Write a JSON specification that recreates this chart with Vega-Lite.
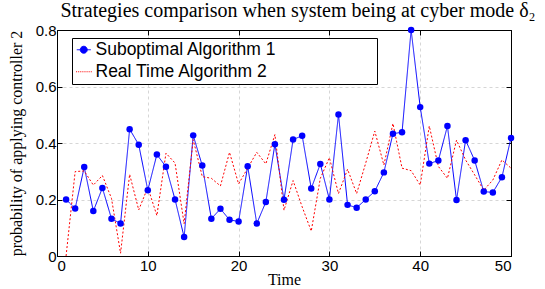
{
  "$schema": "https://vega.github.io/schema/vega-lite/v6.json",
  "autosize": {"type": "none"},
  "padding": {"left": 57, "top": 30, "right": 34, "bottom": 33},
  "width": 454,
  "height": 226,
  "background": "white",
  "title": {"text": "Strategies comparison when system being at cyber mode δ₂", "font": "Liberation Serif", "fontSize": 20, "fontWeight": "normal", "color": "black", "anchor": "middle", "dx": 14, "offset": 2},
  "config": {
    "view": {"stroke": "black", "strokeWidth": 1},
    "axis": {"labelFont": "Liberation Sans", "labelFontSize": 15, "labelColor": "black", "tickColor": "black", "tickSize": -5, "domainColor": "black", "gridColor": "#d6d6d6", "gridDash": [3, 3], "titleFont": "Liberation Serif", "titleFontWeight": "normal", "titleFontSize": 16, "titleColor": "black"}
  },
  "datasets": {
    "pts": [
      {"t": 1, "v": 0.2, "s": "Suboptimal Algorithm 1"},
      {"t": 2, "v": 0.168, "s": "Suboptimal Algorithm 1"},
      {"t": 3, "v": 0.315, "s": "Suboptimal Algorithm 1"},
      {"t": 4, "v": 0.159, "s": "Suboptimal Algorithm 1"},
      {"t": 5, "v": 0.241, "s": "Suboptimal Algorithm 1"},
      {"t": 6, "v": 0.132, "s": "Suboptimal Algorithm 1"},
      {"t": 7, "v": 0.115, "s": "Suboptimal Algorithm 1"},
      {"t": 8, "v": 0.449, "s": "Suboptimal Algorithm 1"},
      {"t": 9, "v": 0.394, "s": "Suboptimal Algorithm 1"},
      {"t": 10, "v": 0.233, "s": "Suboptimal Algorithm 1"},
      {"t": 11, "v": 0.359, "s": "Suboptimal Algorithm 1"},
      {"t": 12, "v": 0.316, "s": "Suboptimal Algorithm 1"},
      {"t": 13, "v": 0.2, "s": "Suboptimal Algorithm 1"},
      {"t": 14, "v": 0.067, "s": "Suboptimal Algorithm 1"},
      {"t": 15, "v": 0.427, "s": "Suboptimal Algorithm 1"},
      {"t": 16, "v": 0.32, "s": "Suboptimal Algorithm 1"},
      {"t": 17, "v": 0.132, "s": "Suboptimal Algorithm 1"},
      {"t": 18, "v": 0.167, "s": "Suboptimal Algorithm 1"},
      {"t": 19, "v": 0.128, "s": "Suboptimal Algorithm 1"},
      {"t": 20, "v": 0.122, "s": "Suboptimal Algorithm 1"},
      {"t": 21, "v": 0.318, "s": "Suboptimal Algorithm 1"},
      {"t": 22, "v": 0.115, "s": "Suboptimal Algorithm 1"},
      {"t": 23, "v": 0.191, "s": "Suboptimal Algorithm 1"},
      {"t": 24, "v": 0.396, "s": "Suboptimal Algorithm 1"},
      {"t": 25, "v": 0.199, "s": "Suboptimal Algorithm 1"},
      {"t": 26, "v": 0.412, "s": "Suboptimal Algorithm 1"},
      {"t": 27, "v": 0.426, "s": "Suboptimal Algorithm 1"},
      {"t": 28, "v": 0.239, "s": "Suboptimal Algorithm 1"},
      {"t": 29, "v": 0.326, "s": "Suboptimal Algorithm 1"},
      {"t": 30, "v": 0.2, "s": "Suboptimal Algorithm 1"},
      {"t": 31, "v": 0.501, "s": "Suboptimal Algorithm 1"},
      {"t": 32, "v": 0.181, "s": "Suboptimal Algorithm 1"},
      {"t": 33, "v": 0.171, "s": "Suboptimal Algorithm 1"},
      {"t": 34, "v": 0.2, "s": "Suboptimal Algorithm 1"},
      {"t": 35, "v": 0.229, "s": "Suboptimal Algorithm 1"},
      {"t": 36, "v": 0.296, "s": "Suboptimal Algorithm 1"},
      {"t": 37, "v": 0.433, "s": "Suboptimal Algorithm 1"},
      {"t": 38, "v": 0.438, "s": "Suboptimal Algorithm 1"},
      {"t": 39, "v": 0.8, "s": "Suboptimal Algorithm 1"},
      {"t": 40, "v": 0.527, "s": "Suboptimal Algorithm 1"},
      {"t": 41, "v": 0.327, "s": "Suboptimal Algorithm 1"},
      {"t": 42, "v": 0.338, "s": "Suboptimal Algorithm 1"},
      {"t": 43, "v": 0.46, "s": "Suboptimal Algorithm 1"},
      {"t": 44, "v": 0.198, "s": "Suboptimal Algorithm 1"},
      {"t": 45, "v": 0.41, "s": "Suboptimal Algorithm 1"},
      {"t": 46, "v": 0.338, "s": "Suboptimal Algorithm 1"},
      {"t": 47, "v": 0.228, "s": "Suboptimal Algorithm 1"},
      {"t": 48, "v": 0.225, "s": "Suboptimal Algorithm 1"},
      {"t": 49, "v": 0.279, "s": "Suboptimal Algorithm 1"},
      {"t": 50, "v": 0.418, "s": "Suboptimal Algorithm 1"},
      {"t": 1, "v": 0.0, "s": "Real Time Algorithm 2"},
      {"t": 2, "v": 0.299, "s": "Real Time Algorithm 2"},
      {"t": 3, "v": 0.301, "s": "Real Time Algorithm 2"},
      {"t": 4, "v": 0.251, "s": "Real Time Algorithm 2"},
      {"t": 5, "v": 0.285, "s": "Real Time Algorithm 2"},
      {"t": 6, "v": 0.204, "s": "Real Time Algorithm 2"},
      {"t": 7, "v": 0.01, "s": "Real Time Algorithm 2"},
      {"t": 8, "v": 0.289, "s": "Real Time Algorithm 2"},
      {"t": 9, "v": 0.163, "s": "Real Time Algorithm 2"},
      {"t": 10, "v": 0.243, "s": "Real Time Algorithm 2"},
      {"t": 11, "v": 0.143, "s": "Real Time Algorithm 2"},
      {"t": 12, "v": 0.364, "s": "Real Time Algorithm 2"},
      {"t": 13, "v": 0.329, "s": "Real Time Algorithm 2"},
      {"t": 14, "v": 0.114, "s": "Real Time Algorithm 2"},
      {"t": 15, "v": 0.412, "s": "Real Time Algorithm 2"},
      {"t": 16, "v": 0.281, "s": "Real Time Algorithm 2"},
      {"t": 17, "v": 0.275, "s": "Real Time Algorithm 2"},
      {"t": 18, "v": 0.248, "s": "Real Time Algorithm 2"},
      {"t": 19, "v": 0.367, "s": "Real Time Algorithm 2"},
      {"t": 20, "v": 0.255, "s": "Real Time Algorithm 2"},
      {"t": 21, "v": 0.311, "s": "Real Time Algorithm 2"},
      {"t": 22, "v": 0.367, "s": "Real Time Algorithm 2"},
      {"t": 23, "v": 0.326, "s": "Real Time Algorithm 2"},
      {"t": 24, "v": 0.43, "s": "Real Time Algorithm 2"},
      {"t": 25, "v": 0.162, "s": "Real Time Algorithm 2"},
      {"t": 26, "v": 0.267, "s": "Real Time Algorithm 2"},
      {"t": 27, "v": 0.174, "s": "Real Time Algorithm 2"},
      {"t": 28, "v": 0.088, "s": "Real Time Algorithm 2"},
      {"t": 29, "v": 0.275, "s": "Real Time Algorithm 2"},
      {"t": 30, "v": 0.348, "s": "Real Time Algorithm 2"},
      {"t": 31, "v": 0.221, "s": "Real Time Algorithm 2"},
      {"t": 32, "v": 0.307, "s": "Real Time Algorithm 2"},
      {"t": 33, "v": 0.221, "s": "Real Time Algorithm 2"},
      {"t": 34, "v": 0.329, "s": "Real Time Algorithm 2"},
      {"t": 35, "v": 0.442, "s": "Real Time Algorithm 2"},
      {"t": 36, "v": 0.322, "s": "Real Time Algorithm 2"},
      {"t": 37, "v": 0.469, "s": "Real Time Algorithm 2"},
      {"t": 38, "v": 0.311, "s": "Real Time Algorithm 2"},
      {"t": 39, "v": 0.302, "s": "Real Time Algorithm 2"},
      {"t": 40, "v": 0.251, "s": "Real Time Algorithm 2"},
      {"t": 41, "v": 0.46, "s": "Real Time Algorithm 2"},
      {"t": 42, "v": 0.317, "s": "Real Time Algorithm 2"},
      {"t": 43, "v": 0.275, "s": "Real Time Algorithm 2"},
      {"t": 44, "v": 0.41, "s": "Real Time Algorithm 2"},
      {"t": 45, "v": 0.34, "s": "Real Time Algorithm 2"},
      {"t": 46, "v": 0.287, "s": "Real Time Algorithm 2"},
      {"t": 47, "v": 0.233, "s": "Real Time Algorithm 2"},
      {"t": 48, "v": 0.269, "s": "Real Time Algorithm 2"},
      {"t": 49, "v": 0.34, "s": "Real Time Algorithm 2"},
      {"t": 50, "v": 0.311, "s": "Real Time Algorithm 2"}
    ]
  },
  "data": {"name": "pts"},
  "layer": [
    {
      "mark": {"type": "line", "strokeWidth": 1},
      "encoding": {
        "x": {"field": "t", "type": "quantitative", "scale": {"domain": [0, 50], "nice": false}, "axis": {"orient": "bottom", "values": [0, 10, 20, 30, 40, 50], "grid": true, "title": "Time", "labelPadding": 7, "titlePadding": -2}},
        "y": {"field": "v", "type": "quantitative", "scale": {"domain": [0, 0.8], "nice": false}, "axis": {"orient": "left", "values": [0, 0.2, 0.4, 0.6, 0.8], "format": "~g", "grid": true, "title": "probability of applying controller 2", "labelPadding": 6, "titlePadding": 11}},
        "color": {"field": "s", "type": "nominal", "scale": {"domain": ["Suboptimal Algorithm 1", "Real Time Algorithm 2"], "range": ["#0000ff", "#ff0000"]}, "legend": {"orient": "none", "legendX": 15, "legendY": 8, "title": null, "strokeColor": "black", "fillColor": "white", "padding": 3, "symbolSize": 196, "symbolStrokeWidth": 1, "labelFont": "Liberation Sans", "labelFontSize": 17.5, "labelColor": "black", "labelOffset": 3, "rowPadding": 3, "labelLimit": 500, "labelExpr": "datum.label + '\u00a0\u00a0\u00a0\u00a0\u00a0\u00a0\u00a0\u00a0\u00a0\u00a0\u00a0\u00a0\u00a0\u00a0\u00a0\u00a0\u00a0\u00a0\u00a0\u00a0\u200b'", "encode": {"symbols": {"update": {"fill": {"scale": "color", "field": "value"}, "stroke": {"scale": "color", "field": "value"}, "shape": {"scale": "shape", "field": "value"}, "strokeDash": {"value": [1, 0]}, "opacity": {"value": 1}}}}}},
        "strokeDash": {"field": "s", "type": "nominal", "scale": {"domain": ["Suboptimal Algorithm 1", "Real Time Algorithm 2"], "range": [[1, 0], [2, 2]]}, "legend": null}
      }
    },
    {
      "transform": [{"filter": "datum.s === 'Suboptimal Algorithm 1'"}],
      "mark": {"type": "point", "filled": true, "size": 42, "opacity": 1},
      "encoding": {
        "x": {"field": "t", "type": "quantitative", "axis": null},
        "y": {"field": "v", "type": "quantitative", "axis": null},
        "color": {"field": "s", "type": "nominal"}
      }
    },
    {
      "transform": [{"filter": "datum.t < 0"}],
      "mark": {"type": "point", "filled": true},
      "encoding": {
        "x": {"field": "t", "type": "quantitative", "axis": null},
        "y": {"field": "v", "type": "quantitative", "axis": null},
        "color": {"field": "s", "type": "nominal"},
        "shape": {"field": "s", "type": "nominal", "scale": {"domain": ["Suboptimal Algorithm 1", "Real Time Algorithm 2"], "range": ["M-1,0L1,0M-0.5,0A0.5,0.5,0,1,0,0.5,0A0.5,0.5,0,1,0,-0.5,0Z", "M-1.1,0L-0.95,0M-0.8,0L-0.65,0M-0.5,0L-0.35,0M-0.2,0L-0.05,0M0.1,0L0.25,0M0.4,0L0.55,0M0.7,0L0.85,0M1,0L1.15,0"]}}
      }
    },
    {
      "mark": {"type": "point", "opacity": 0},
      "encoding": {
        "x": {"field": "t", "type": "quantitative", "axis": {"orient": "top", "values": [0, 10, 20, 30, 40, 50], "labels": false, "title": null, "grid": false}},
        "y": {"field": "v", "type": "quantitative", "axis": {"orient": "right", "values": [0, 0.2, 0.4, 0.6, 0.8], "labels": false, "title": null, "grid": false}}
      }
    }
  ],
  "resolve": {"axis": {"x": "independent", "y": "independent"}}
}
